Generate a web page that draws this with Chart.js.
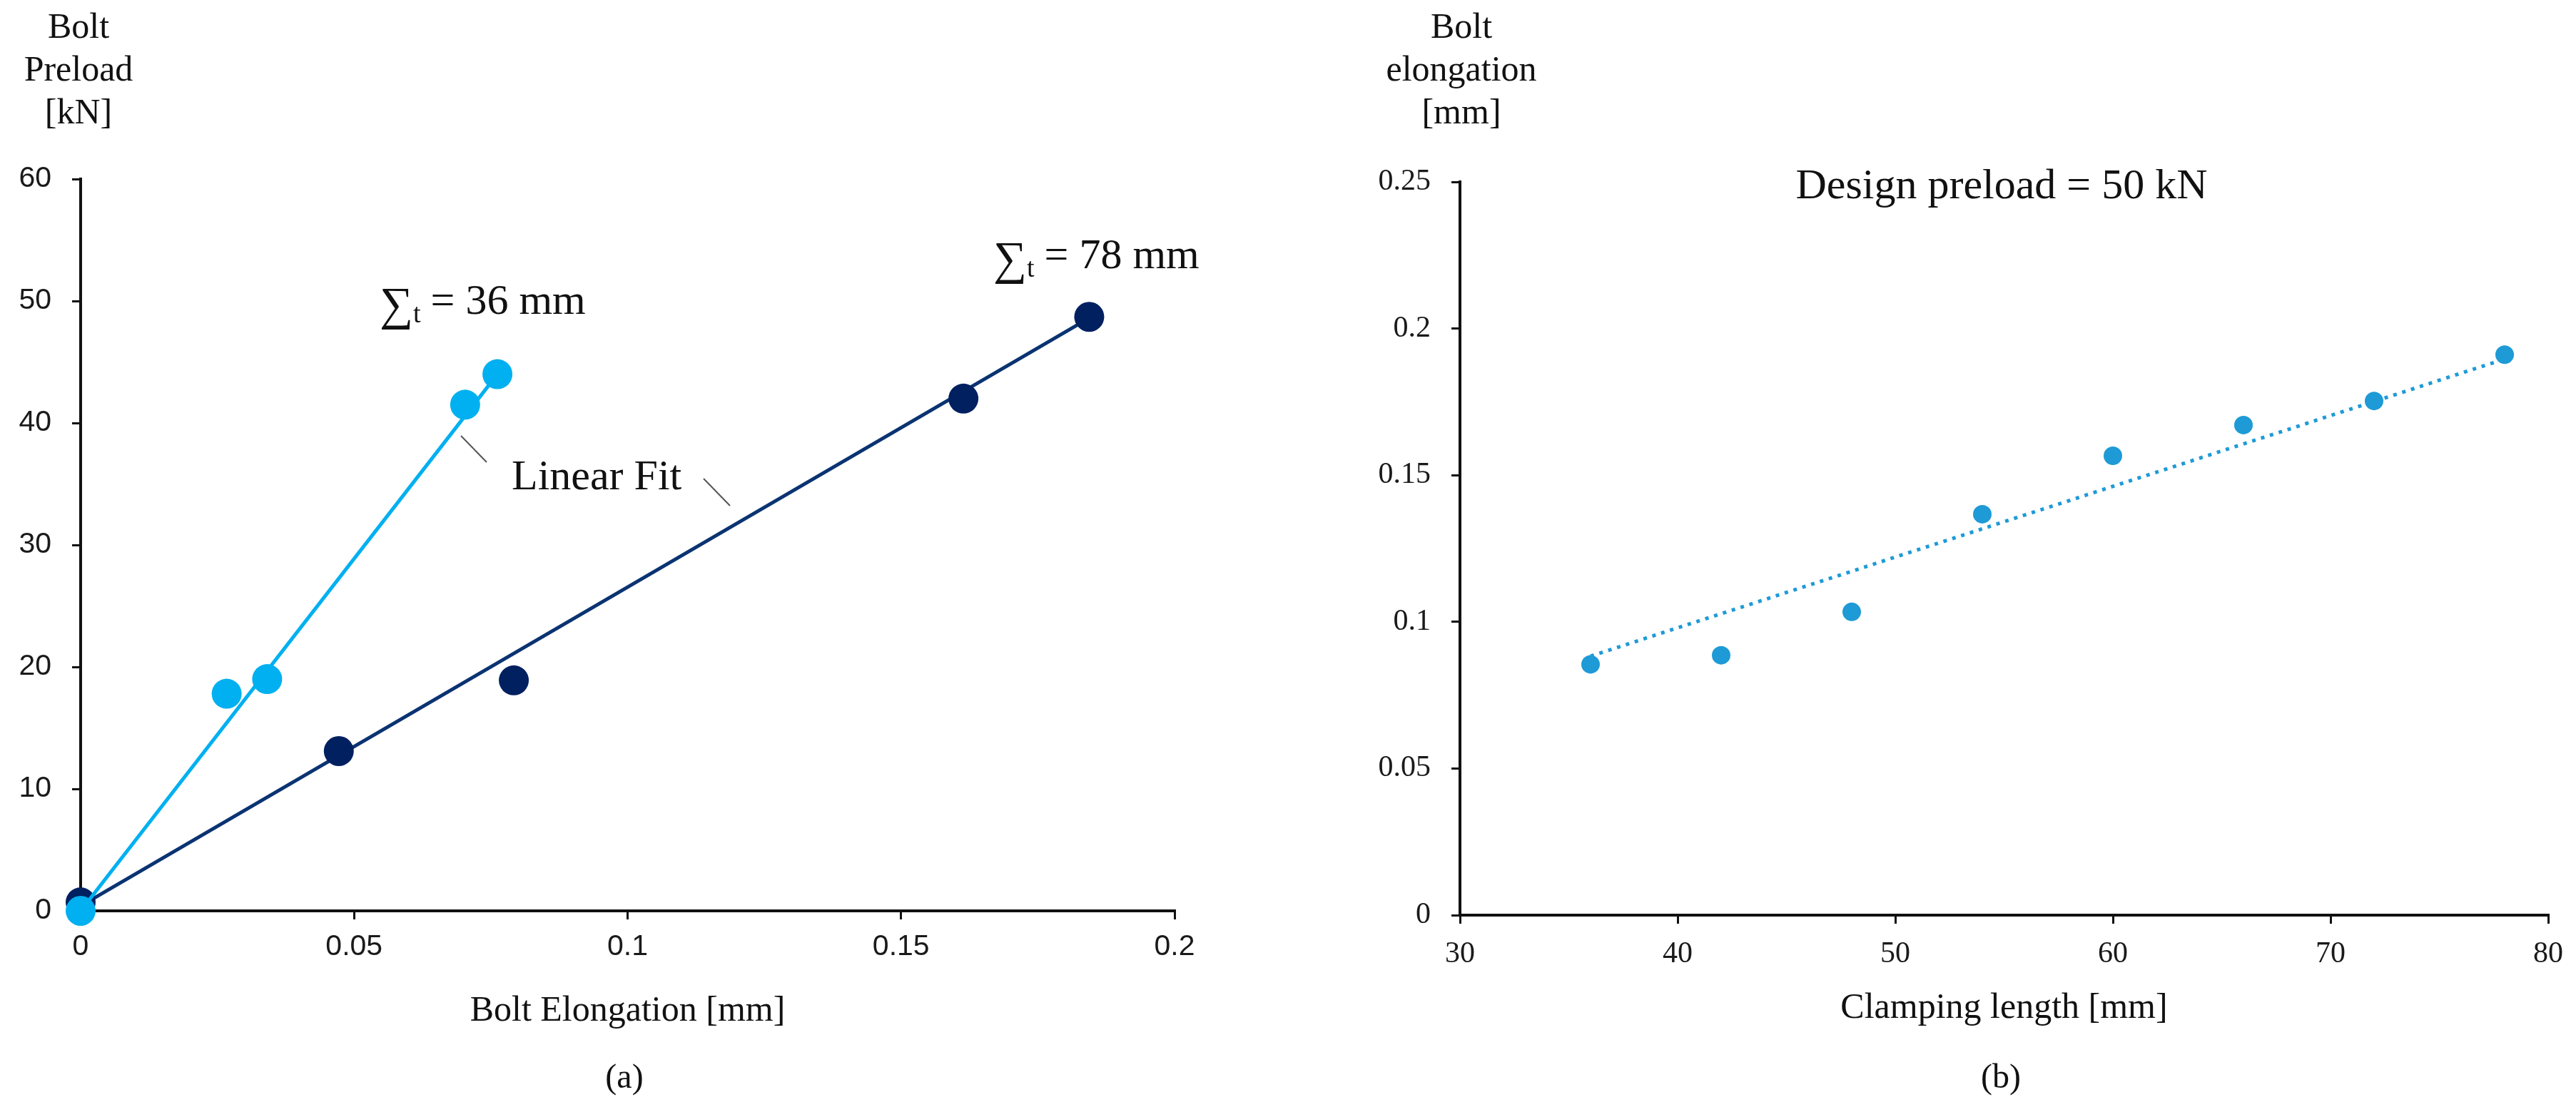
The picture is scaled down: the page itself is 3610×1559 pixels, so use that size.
<!DOCTYPE html>
<html>
<head>
<meta charset="utf-8">
<script src="https://cdn.jsdelivr.net/npm/chart.js@4.4.1/dist/chart.umd.min.js"></script>
<style>
  html, body { margin: 0; padding: 0; background: #fff; }
  #wrap { position: relative; width: 3610px; height: 1559px; }
  .box { position: absolute; top: 0; width: 1805px; height: 1559px; }
</style>
</head>
<body>
<div id="wrap">
  <div class="box" style="left:0"><canvas id="chartA"></canvas></div>
  <div class="box" style="left:1805px"><canvas id="chartB"></canvas></div>
</div>
<script>
// (a) bolt preload vs bolt elongation
const elong36 = [0, 0.0267, 0.0341, 0.0703, 0.0762];
const preload36 = [0, 17.8, 19.0, 41.5, 44.0];
const elong78 = [0, 0.0472, 0.0792, 0.1614, 0.1844];
const preload78 = [0.7, 13.1, 18.9, 42.0, 48.7];
const fit36X = [0, 0.0762];
const fit36Y = [0, 44.0];
const fit78X = [0, 0.1844];
const fit78Y = [0.4, 48.6];
const elongTicks = [0, 0.05, 0.1, 0.15, 0.2];
const elongLabels = ['0', '0.05', '0.1', '0.15', '0.2'];
const preloadTicks = [0, 10, 20, 30, 40, 50, 60];
const preloadLabels = ['0', '10', '20', '30', '40', '50', '60'];

// (b) bolt elongation vs clamping length
const clampLength = [36, 42, 48, 54, 60, 66, 72, 78];
const elongationB = [0.0855, 0.0886, 0.1034, 0.1367, 0.1566, 0.1671, 0.1753, 0.1911];
const trendX = [36, 78];
const trendY = [0.0883, 0.1896];
const clampTicks = [30, 40, 50, 60, 70, 80];
const clampLabels = ['30', '40', '50', '60', '70', '80'];
const elongBTicks = [0, 0.05, 0.1, 0.15, 0.2, 0.25];
const elongBLabels = ['0', '0.05', '0.1', '0.15', '0.2', '0.25'];

const SERIF = "'Liberation Serif', 'Times New Roman', serif";
const SANS = "'Liberation Sans', Arial, sans-serif";
const LIGHT = '#00b0f0';
const DARK = '#002060';
const DARK_LINE = '#0a3372';
const MID = '#1e9ad6';

function pts(xs, ys) {
  return xs.map((x, i) => ({ x: x, y: ys[i] }));
}

function axis(min, max, values, labels, font, size, pad, fit, title) {
  const a = {
    type: 'linear',
    min: min,
    max: max,
    afterBuildTicks: s => { s.ticks = values.map(v => ({ value: v })); },
    afterFit: fit,
    ticks: {
      callback: (v, i) => labels[i],
      font: { family: font, size: size },
      color: '#1a1a1a',
      padding: pad,
      maxRotation: 0,
      autoSkip: false
    },
    grid: { drawOnChartArea: false, drawTicks: true, tickLength: 12, color: '#111', lineWidth: 3 },
    border: { display: true, color: '#111', width: 4 }
  };
  if (title) {
    a.title = { display: true, text: title, color: '#111', font: { family: SERIF, size: 50 }, padding: 0 };
  }
  return a;
}

function centered(ctx, lines, x, y0, step, size) {
  ctx.font = size + 'px ' + SERIF;
  ctx.textAlign = 'center';
  ctx.textBaseline = 'middle';
  lines.forEach((t, i) => ctx.fillText(t, x, y0 + i * step));
}

function sigmaLabel(ctx, x, base, rest) {
  ctx.textAlign = 'left';
  ctx.textBaseline = 'alphabetic';
  ctx.font = '66px ' + SERIF;
  ctx.fillText('\u2211', x, base + 8);
  let w = ctx.measureText('\u2211').width;
  ctx.font = '38px ' + SERIF;
  ctx.fillText('t', x + w, base + 12);
  w += ctx.measureText('t').width;
  ctx.font = '60px ' + SERIF;
  ctx.fillText(rest, x + w + 14, base);
}

const notesA = {
  id: 'notesA',
  afterDraw(chart) {
    const ctx = chart.ctx;
    ctx.save();
    ctx.fillStyle = '#111';
    centered(ctx, ['Bolt', 'Preload', '[kN]'], 110, 40, 60, 50);
    centered(ctx, ['(a)'], 875, 1512, 0, 48);
    sigmaLabel(ctx, 532, 440, '= 36 mm');
    sigmaLabel(ctx, 1392, 376, '= 78 mm');
    ctx.font = '60px ' + SERIF;
    ctx.textAlign = 'left';
    ctx.textBaseline = 'alphabetic';
    ctx.fillText('Linear Fit', 717, 686);
    ctx.strokeStyle = '#555';
    ctx.lineWidth = 2;
    ctx.beginPath();
    ctx.moveTo(646, 611); ctx.lineTo(682, 648);
    ctx.moveTo(986, 671); ctx.lineTo(1023, 709);
    ctx.stroke();
    ctx.restore();
  }
};

const notesB = {
  id: 'notesB',
  afterDraw(chart) {
    const ctx = chart.ctx;
    ctx.save();
    ctx.fillStyle = '#111';
    centered(ctx, ['Bolt', 'elongation', '[mm]'], 243, 40, 60, 50);
    centered(ctx, ['(b)'], 999, 1512, 0, 48);
    ctx.font = '60px ' + SERIF;
    ctx.textAlign = 'center';
    ctx.textBaseline = 'alphabetic';
    ctx.fillText('Design preload = 50 kN', 1000, 278);
    ctx.restore();
  }
};

new Chart(document.getElementById('chartA'), {
  type: 'scatter',
  data: {
    datasets: [
      { label: '36 mm', data: pts(elong36, preload36), backgroundColor: LIGHT, pointRadius: 21,
        pointBorderWidth: 0, order: 0, clip: false },
      { label: 'fit 36', data: pts(fit36X, fit36Y), showLine: true, borderColor: LIGHT, borderWidth: 5,
        pointRadius: 0, order: 1, clip: false },
      { label: '78 mm', data: pts(elong78, preload78), backgroundColor: DARK, pointRadius: 21,
        pointBorderWidth: 0, order: 2, clip: false },
      { label: 'fit 78', data: pts(fit78X, fit78Y), showLine: true, borderColor: DARK_LINE, borderWidth: 5,
        pointRadius: 0, order: 3, clip: false }
    ]
  },
  options: {
    responsive: true,
    maintainAspectRatio: false,
    devicePixelRatio: 1,
    animation: false,
    layout: { padding: { left: 0, top: 251, right: 159, bottom: 111 } },
    plugins: { legend: { display: false }, tooltip: { enabled: false } },
    scales: {
      x: axis(0, 0.2, elongTicks, elongLabels, SANS, 41, 14, s => { s.height = 171; }, 'Bolt Elongation [mm]'),
      y: axis(0, 60, preloadTicks, preloadLabels, SANS, 41, 29, s => { s.width = 113; })
    }
  },
  plugins: [notesA]
});

new Chart(document.getElementById('chartB'), {
  type: 'scatter',
  data: {
    datasets: [
      { label: 'Bolt elongation', data: pts(clampLength, elongationB), backgroundColor: MID, pointRadius: 13,
        pointBorderWidth: 0, order: 0, clip: false },
      { label: 'trend', data: pts(trendX, trendY), showLine: true, borderColor: MID, borderWidth: 5,
        borderDash: [5, 8], pointRadius: 0, order: 1, clip: false }
    ]
  },
  options: {
    responsive: true,
    maintainAspectRatio: false,
    devicePixelRatio: 1,
    animation: false,
    layout: { padding: { left: 0, top: 255, right: 33, bottom: 115 } },
    plugins: { legend: { display: false }, tooltip: { enabled: false } },
    scales: {
      x: axis(30, 80, clampTicks, clampLabels, SERIF, 42, 18, s => { s.height = 161; }, 'Clamping length [mm]'),
      y: axis(0, 0.25, elongBTicks, elongBLabels, SERIF, 42, 29, s => { s.width = 241; })
    }
  },
  plugins: [notesB]
});
</script>
</body>
</html>
